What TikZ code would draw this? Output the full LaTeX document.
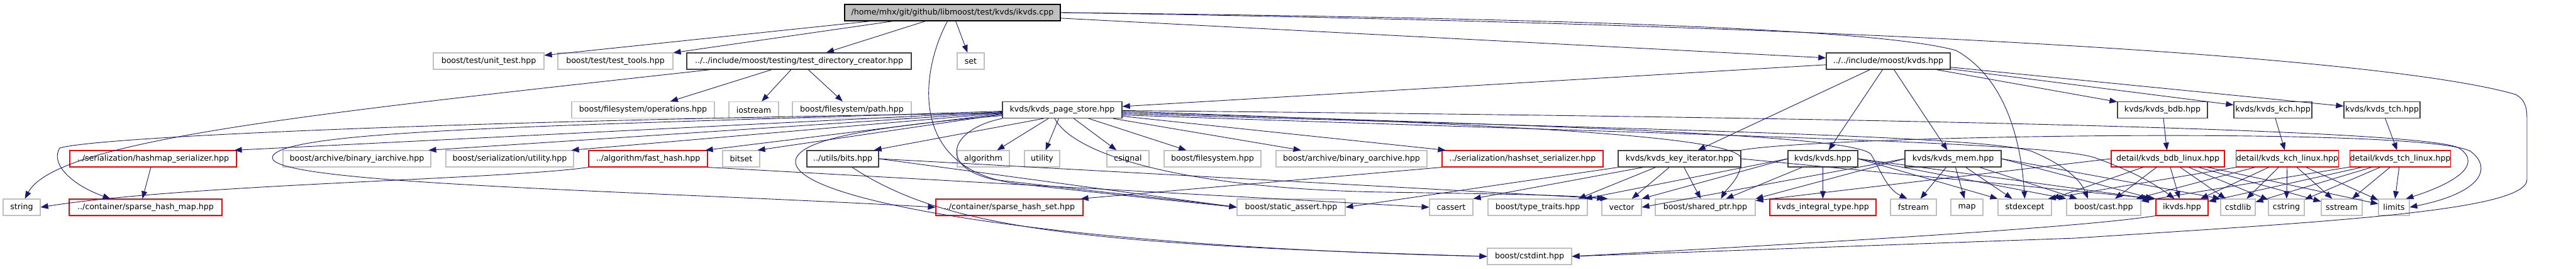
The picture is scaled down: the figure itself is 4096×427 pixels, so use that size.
\documentclass[tikz,border=0pt]{standalone}
\usepackage{fontspec}
\setmainfont{DejaVu Sans}
\usetikzlibrary{arrows.meta}
\definecolor{edgec}{HTML}{191970}
\definecolor{grayb}{HTML}{BFBFBF}
\definecolor{darkb}{HTML}{404040}
\tikzset{
  box/.style={rectangle, minimum height=26pt, inner sep=0pt, font=\fontsize{12.6}{15}\selectfont},
  sys/.style={box, draw=grayb, line width=1.1pt},
  doc/.style={box, draw=darkb, line width=1.4pt},
  miss/.style={box, draw=red, line width=1.1pt},
  rootn/.style={box, draw=black, fill=grayb, line width=1.4pt},
  e/.style={draw=edgec, line width=0.9pt, -{Triangle[length=12pt,width=9pt]}},
}
\begin{document}
\begin{tikzpicture}[x=1pt,y=-1pt]
\useasboundingbox (0,0) rectangle (4096,427);
% row 0
\node[rootn, minimum width=343pt] (root) at (1514.5,20) {/home/mhx/git/github/libmoost/test/kvds/ikvds.cpp};
% row 1
\node[sys, minimum width=176pt] (unit) at (777,97) {boost/test/unit\_test.hpp};
\node[sys, minimum width=183pt] (tools) at (978.5,97) {boost/test/test\_tools.hpp};
\node[doc, minimum width=357pt] (tdc) at (1270.5,97) {../../include/moost/testing/test\_directory\_creator.hpp};
\node[sys, minimum width=43pt] (set) at (1543.5,97) {set};
\node[doc, minimum width=197pt] (kvdsh) at (3002.5,97) {../../include/moost/kvds.hpp};
% row 2
\node[sys, minimum width=227pt] (ops) at (1022.5,174.5) {boost/filesystem/operations.hpp};
\node[sys, minimum width=79pt] (iostream) at (1198.5,174.5) {iostream};
\node[sys, minimum width=189pt] (path) at (1354.5,174.5) {boost/filesystem/path.hpp};
\node[doc, minimum width=190pt] (ps) at (1689,174.5) {kvds/kvds\_page\_store.hpp};
\node[doc, minimum width=143pt] (bdb) at (3438.5,174.5) {kvds/kvds\_bdb.hpp};
\node[doc, minimum width=124pt] (kch) at (3614,174.5) {kvds/kvds\_kch.hpp};
\node[doc, minimum width=121pt] (tch) at (3787.5,174.5) {kvds/kvds\_tch.hpp};
% row 3
\node[miss, minimum width=265pt] (hms) at (243.5,252) {../serialization/hashmap\_serializer.hpp};
\node[sys, minimum width=235pt] (bia) at (567.5,252) {boost/archive/binary\_iarchive.hpp};
\node[sys, minimum width=203pt] (su) at (810.5,252) {boost/serialization/utility.hpp};
\node[miss, minimum width=189pt] (fh) at (1030.5,252) {../algorithm/fast\_hash.hpp};
\node[sys, minimum width=59pt] (bitset) at (1178.5,252) {bitset};
\node[doc, minimum width=114pt] (bits) at (1340,252) {../utils/bits.hpp};
\node[sys, minimum width=83pt] (algorithm) at (1563.5,252) {algorithm};
\node[sys, minimum width=56pt] (utility) at (1657,252) {utility};
\node[sys, minimum width=67pt] (csignal) at (1793.5,252) {csignal};
\node[sys, minimum width=154pt] (bfs) at (1928,252) {boost/filesystem.hpp};
\node[sys, minimum width=240pt] (boa) at (2149,252) {boost/archive/binary\_oarchive.hpp};
\node[miss, minimum width=256pt] (hss) at (2421,252) {../serialization/hashset\_serializer.hpp};
\node[doc, minimum width=195pt] (ki) at (2670.5,252) {kvds/kvds\_key\_iterator.hpp};
\node[doc, minimum width=111pt] (kk) at (2898.5,252) {kvds/kvds.hpp};
\node[doc, minimum width=153pt] (mem) at (3105.5,252) {kvds/kvds\_mem.hpp};
\node[miss, minimum width=180pt] (bdbl) at (3447,252) {detail/kvds\_bdb\_linux.hpp};
\node[miss, minimum width=160pt] (kchl) at (3637,252) {detail/kvds\_kch\_linux.hpp};
\node[miss, minimum width=159pt] (tchl) at (3816.5,252) {detail/kvds\_tch\_linux.hpp};
% row 4
\node[sys, minimum width=59pt] (string) at (34.5,329) {string};
\node[miss, minimum width=243pt] (shm) at (231.5,329) {../container/sparse\_hash\_map.hpp};
\node[miss, minimum width=234pt] (shs) at (1605,329) {../container/sparse\_hash\_set.hpp};
\node[sys, minimum width=172pt] (sa) at (2053,329) {boost/static\_assert.hpp};
\node[sys, minimum width=69pt] (cassert) at (2307.5,329) {cassert};
\node[sys, minimum width=158pt] (tt) at (2445,329) {boost/type\_traits.hpp};
\node[sys, minimum width=63pt] (vector) at (2578.5,329) {vector};
\node[sys, minimum width=159pt] (sp) at (2711.5,329) {boost/shared\_ptr.hpp};
\node[miss, minimum width=169pt] (it) at (2898.5,329) {kvds\_integral\_type.hpp};
\node[sys, minimum width=73pt] (fstream) at (3042.5,329) {fstream};
\node[sys, minimum width=51pt] (map) at (3127.5,329) {map};
\node[sys, minimum width=85pt] (stdexcept) at (3219.5,329) {stdexcept};
\node[sys, minimum width=118pt] (cast) at (3345,329) {boost/cast.hpp};
\node[miss, minimum width=83pt] (ikvds) at (3469.5,329) {ikvds.hpp};
\node[sys, minimum width=55pt] (cstdlib) at (3558.5,329) {cstdlib};
\node[sys, minimum width=57pt] (cstring) at (3635.5,329) {cstring};
\node[sys, minimum width=65pt] (sstream) at (3723.5,329) {sstream};
\node[sys, minimum width=49pt] (limits) at (3806.5,329) {limits};
% row 5
\node[sys, minimum width=134pt] (cstdint) at (2432,407) {boost/cstdint.hpp};

% ---- edges from root
\draw[e] (root) -- (unit);
\draw[e] (root) -- (tools);
\draw[e] (root) -- (tdc);
\draw[e] (root) -- (set);
\draw[e] (root) -- (kvdsh);
\draw[e] (root.east) .. controls (2600,30) and (3000,50) .. (3110,80) .. controls (3200,130) and (3215,250) .. (stdexcept.north);
\draw[e] (root.east) .. controls (3000,40) and (3800,92) .. (4000,150) .. controls (4018,160) and (4018,175) .. (4018,195) -- (4018,285) .. controls (4018,335) and (3700,352) .. (3300,378) -- (cstdint.east);
\draw[e] ([xshift=-8pt]root.south) .. controls (1465,110) and (1440,270) .. (1620,292) .. controls (1800,312) and (1900,322) .. (sa.west);
% ---- test_directory_creator
\draw[e] (tdc) -- (ops);
\draw[e] (tdc) -- (iostream);
\draw[e] (tdc) -- (path);
\draw[e] ([xshift=-142pt]tdc.south) .. controls (500,180) and (90,222) .. ([xshift=5pt]string.north);
% ---- kvds.hpp
\draw[e] (kvdsh) -- (ps);
\draw[e] (kvdsh) -- (ki);
\draw[e] (kvdsh) -- (kk);
\draw[e] (kvdsh) -- (mem);
\draw[e] (kvdsh) -- (bdb);
\draw[e] (kvdsh) -- (kch);
\draw[e] (kvdsh) -- (tch);
\draw[e] (bdb) -- (bdbl);
\draw[e] (kch) -- (kchl);
\draw[e] (tch) -- (tchl);
% ---- page store
\draw[e] ([yshift=-5pt]ps.west) .. controls (700,192) and (150,218) .. (95,235) .. controls (80,258) and (110,292) .. ([xshift=-56pt]shm.north);
\draw[e] ([yshift=-3pt]ps.west) -- ([xshift=-4pt]hms.north east);
\draw[e] ([yshift=-4pt]ps.west) -- ([xshift=-4pt]bia.north east);
\draw[e] ([yshift=-5pt]ps.west) -- ([xshift=-4pt]su.north east);
\draw[e] ([yshift=-6pt]ps.west) -- ([xshift=-4pt]fh.north east);
\draw[e] ([yshift=-7pt]ps.west) -- ([xshift=-4pt]bitset.north east);
\draw[e] ([yshift=-2pt]ps.west) .. controls (900,200) and (440,205) .. (433,250) .. controls (430,292) and (1000,302) .. (shs.west);
\draw[e] ([xshift=-30pt]ps.south) -- ([xshift=-8pt]bits.north east);
\draw[e] (ps) -- (algorithm);
\draw[e] (ps) -- (utility);
\draw[e] (ps) -- (csignal);
\draw[e] (ps) -- (bfs);
\draw[e] (ps) -- (boa);
\draw[e] (ps) -- ([xshift=6pt]hss.north west);
\draw[e] ([yshift=-9pt]ps.west) .. controls (1400,200) and (1262,220) .. (1265,258) .. controls (1270,322) and (1700,392) .. (cstdint.west);
\draw[e] (ps.south west) .. controls (1510,205) and (1490,265) .. (1580,285) .. controls (1750,305) and (1900,320) .. (sa.west);
\draw[e] ([xshift=-12pt]ps.south) .. controls (1710,250) and (1900,300) .. (2200,305) .. controls (2400,308) and (2500,310) .. ([xshift=5pt]vector.north west);
\draw[e] ([yshift=-2pt]ps.east) .. controls (2300,195) and (2750,212) .. (2768,250) .. controls (2772,280) and (2745,300) .. ([xshift=25pt]sp.north);
\draw[e] ([yshift=-4pt]ps.east) .. controls (2500,200) and (2950,215) .. (2975,245) .. controls (2990,270) and (3000,300) .. ([xshift=-10pt]fstream.north);
\draw[e] ([yshift=-6pt]ps.east) .. controls (2600,205) and (3150,215) .. (3230,240) .. controls (3290,265) and (3310,290) .. ([xshift=-25pt]cast.north);
\draw[e] ([yshift=-8pt]ps.east) .. controls (2700,215) and (3250,225) .. (3330,250) .. controls (3400,275) and (3430,295) .. ([xshift=-12pt]ikvds.north);
\draw[e] ([yshift=-1pt]ps.east) .. controls (2800,185) and (3850,202) .. (3910,235) .. controls (3950,262) and (3900,292) .. ([xshift=-6pt]limits.north east);
% ---- serializers, hash, bits
\draw[e] (hms) -- ([xshift=-5pt]shm.north);
\draw[e] (hss.south west) -- ([xshift=-4pt]shs.north east);
\draw[e] (fh.south west) .. controls (800,285) and (300,292) .. (string.east);
\draw[e] (fh.south east) -- (cassert.west);
\draw[e] ([xshift=15pt]bits.south) .. controls (1500,360) and (1700,388) .. (cstdint.west);
\draw[e] (bits.east) -- ([xshift=10pt]vector.north west);
\draw[e] (bits.east) -- (sa.west);
% ---- key iterator
\draw[e] (ki.south west) -- (sa.east);
\draw[e] ([xshift=40pt]ki.south west) -- (cassert.north east);
\draw[e] ([xshift=60pt]ki.south west) -- ([xshift=-15pt]tt.north east);
\draw[e] (ki) -- (vector);
\draw[e] (ki) -- (sp);
\draw[e] (ki.east) -- (ikvds.north west);
\draw[e] (ki.north east) .. controls (2900,215) and (3850,200) .. (3928,240) .. controls (3962,265) and (3950,305) .. (limits.east);
% ---- kvds/kvds.hpp
\draw[e] (kk) -- (it);
\draw[e] (kk) -- (sp);
\draw[e] (kk.west) -- (vector.north east);
\draw[e] (kk.west) -- ([xshift=-5pt]tt.north east);
\draw[e] (kk.east) -- (stdexcept.north west);
\draw[e] (kk.east) -- (cast.north west);
\draw[e] (kk.east) -- ([xshift=-8pt]ikvds.north west);
% ---- kvds_mem
\draw[e] (mem) -- (fstream);
\draw[e] (mem) -- (map);
\draw[e] (mem) -- (stdexcept);
\draw[e] (mem) -- (cast);
\draw[e] (mem.east) -- ([xshift=-4pt]ikvds.north west);
\draw[e] (mem.east) -- (cstdlib.north west);
\draw[e] (mem.west) -- (vector.east);
\draw[e] (mem.west) -- (sp.north east);
% ---- linux details
\draw[e] (bdbl.west) -- ([yshift=-3pt]sp.north east);
\draw[e] (bdbl) -- (stdexcept.north east);
\draw[e] (bdbl) -- (cast);
\draw[e] (bdbl) -- (ikvds);
\draw[e] (bdbl) -- (cstdlib);
\draw[e] (bdbl) -- (cstring);
\draw[e] (bdbl) -- (sstream);
\draw[e] (bdbl) -- (limits);
\draw[e] (kchl) -- ([xshift=-6pt]stdexcept.north east);
\draw[e] (kchl) -- (cast);
\draw[e] (kchl) -- (ikvds);
\draw[e] (kchl) -- (cstdlib);
\draw[e] (kchl) -- (cstring);
\draw[e] (kchl) -- (sstream);
\draw[e] (kchl) -- (limits);
\draw[e] (tchl) -- (cast);
\draw[e] (tchl) -- (ikvds);
\draw[e] (tchl) -- (cstdlib);
\draw[e] (tchl) -- (cstring);
\draw[e] (tchl) -- (sstream);
\draw[e] (tchl) -- (limits);
% ---- ikvds.hpp
\draw[e] (ikvds.south west) .. controls (3300,362) and (2900,385) .. (cstdint.east);
\end{tikzpicture}
\end{document}
